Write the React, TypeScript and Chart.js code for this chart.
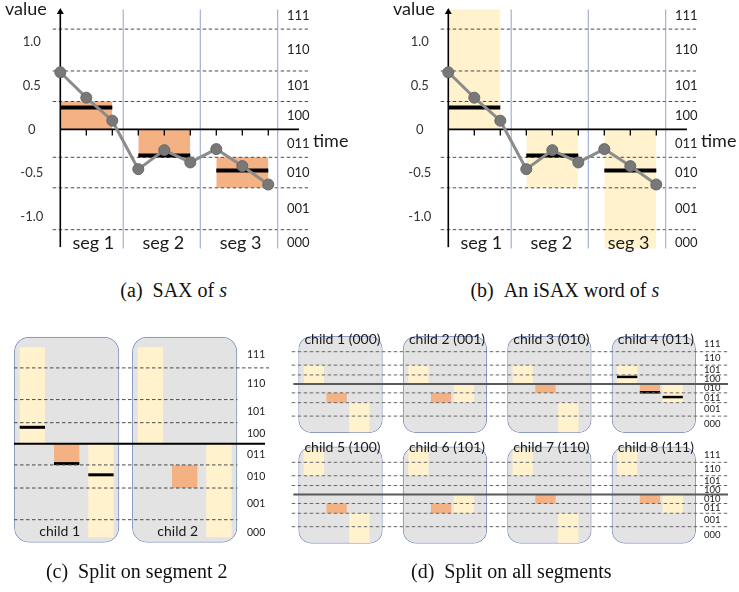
import React, { useEffect, useRef } from 'react';
import { Chart, registerables } from 'chart.js';

Chart.register(...registerables);
const SANS = 'Lato, "Noto Sans", sans-serif';
Chart.defaults.font.family = SANS;

// ---------------- data ----------------
const timeIndex = [0, 1, 2, 3, 4, 5, 6, 7, 8];
const seriesValues = [0.655, 0.364, 0.1, -0.456, -0.238, -0.379, -0.226, -0.421, -0.632];
const segmentNames = ['seg 1', 'seg 2', 'seg 3'];
const segmentMeans = [0.25, -0.3, -0.47];
const segmentBorders = [2.42, 5.385, 8.36];
const breakpoints = [-1.15, -0.67, -0.32, 0, 0.32, 0.67, 1.15];
const valueTicks = [-1, -0.5, 0, 0.5, 1];
const valueTickLabels = ['-1.0', '-0.5', '0', '0.5', '1.0'];
const symbolLabels = ['000', '001', '010', '011', '100', '101', '110', '111'];
const symbolLabelsD = ['000', '001', '011', '010', '100', '101', '110', '111'];
const saxWord = ['100', '011', '010'];
const isaxWord = ['1', '01', '0'];
const seg2SplitChildren = ['child 1', 'child 2'];
const seg2SplitWords = [
  ['1', '011', '0'],
  ['1', '010', '0'],
];
const seg2SplitShowMeans = [0];
const allSplitChildren = [
  'child 1 (000)', 'child 2 (001)', 'child 3 (010)', 'child 4 (011)',
  'child 5 (100)', 'child 6 (101)', 'child 7 (110)', 'child 8 (111)',
];
const allSplitWords = [
  ['10', '010', '00'], ['10', '010', '01'], ['10', '011', '00'], ['10', '011', '01'],
  ['11', '010', '00'], ['11', '010', '01'], ['11', '011', '00'], ['11', '011', '01'],
];
const allSplitShowMeans = [3];

// ---------------- styling ----------------
const ORANGE = '#f4b183';
const YELLOW = '#fff2cc';
const BOX_FILL = '#e3e3e3';
const BOX_EDGE = '#8b9dc3';
const DASH_COLOR = '#4a4a4a';
const TEXT = '#1a1a1a';

type Lin = { p0: number; v0: number; k: number };
const rangeX = (m: Lin, a: number, b: number) => ({ min: m.v0 + (a - m.p0) / m.k, max: m.v0 + (b - m.p0) / m.k });
const rangeY = (m: Lin, top: number, bottom: number) => ({ min: m.v0 - (bottom - m.p0) / m.k, max: m.v0 - (top - m.p0) / m.k });
const xOf = (m: Lin, px: number) => m.v0 + (px - m.p0) / m.k;

// force an axis box to an exact thickness so the plot area lands where the reference has it
const sizeFit = (size: number) => (s: any) => {
  if (s.isHorizontal()) s.height = size;
  else s.width = size;
  s.paddingLeft = 0;
  s.paddingRight = 0;
  s.paddingTop = 0;
  s.paddingBottom = 0;
};
const setTicks = (values: number[]) => (s: any) => {
  s.ticks = values.map((value) => ({ value }));
};
const hidden = { grid: { display: false, drawTicks: false }, border: { display: false } };

function wordRange(word: string, lo: number, hi: number): [number, number] {
  const edges = [lo, ...breakpoints, hi];
  const step = (edges.length - 1) / Math.pow(2, word.length);
  const r = parseInt(word, 2);
  return [edges[r * step], edges[(r + 1) * step]];
}

function bandCenters(outer: number) {
  const edges = [breakpoints[0] - 2 * outer, ...breakpoints, breakpoints[breakpoints.length - 1] + 2 * outer];
  return edges.slice(1).map((e, i) => (e + edges[i]) / 2);
}

type Pt = { x: number; y: number | null };
function gapLines(segs: number[][]): Pt[] {
  const out: Pt[] = [];
  segs.forEach(([x1, y1, x2, y2]) => {
    out.push({ x: x1, y: y1 }, { x: x2, y: y2 }, { x: x2, y: null });
  });
  return out;
}
function lineDs(data: Pt[], color: string, width: number, order: number, extra: any = {}) {
  return {
    type: 'line', data, borderColor: color, borderWidth: width, pointRadius: 0, order,
    clip: false, fill: false, tension: 0, spanGaps: false, ...extra,
  };
}

const baseOptions = (padding: any) => ({
  responsive: false,
  animation: false,
  events: [],
  devicePixelRatio: 1,
  layout: { padding },
  plugins: { legend: { display: false }, tooltip: { enabled: false }, title: { display: false } },
});

// ---------------- panels (a) / (b) ----------------
function saxConfig(word: string[], boxColor: string): any {
  const W = 351, H = 262;
  const mx: Lin = { p0: 60.3, v0: 0, k: 26 };
  const my: Lin = { p0: 129.4, v0: 0, k: 87.2 };
  const area = { left: 60.3, right: 287, top: 8, bottom: 254 };
  const xr = rangeX(mx, area.left, area.right);
  const yr = rangeY(my, area.top, area.bottom);
  const openLo = -1.366, openHi = 1.376;
  const dashL = -0.292, dashR = 9.527;
  const yArrow = 1.346, xArrow = 9.18, yAxisBottom = -1.35, tickLen = 0.07;
  const perSeg = timeIndex.length / segmentNames.length;
  const segIdx = segmentNames.map((_, k) => k);
  const first = (k: number) => timeIndex[k * perSeg];
  const last = (k: number) => timeIndex[k * perSeg + perSeg - 1];
  const segLabelPos = segmentBorders.map((b, k) => ((k === 0 ? timeIndex[0] : segmentBorders[k - 1]) + b) / 2);
  const arrow = { pointStyle: 'triangle', pointBackgroundColor: '#000', pointBorderColor: '#000', pointBorderWidth: 0 };

  const datasets: any[] = [
    lineDs(timeIndex.map((t, i) => ({ x: t, y: seriesValues[i] })), '#8c8c8c', 3, 0, {
      pointRadius: 5.5, pointBackgroundColor: '#787878', pointBorderColor: '#686868', pointBorderWidth: 1,
    }),
    lineDs(gapLines(segIdx.map((k) => [first(k), segmentMeans[k], last(k), segmentMeans[k]])), '#000', 4, 1),
    lineDs([{ x: 0, y: yAxisBottom }, { x: 0, y: yArrow }], '#000', 1.6, 2, { ...arrow, pointRadius: [0, 4], pointRotation: 0 }),
    lineDs([{ x: 0, y: 0 }, { x: xArrow, y: 0 }], '#000', 1.6, 2, { ...arrow, pointRadius: [0, 4], pointRotation: 90 }),
    lineDs(gapLines(timeIndex.slice(1).map((t) => [t, 0, t, -tickLen])), '#000', 1.3, 3),
    lineDs(gapLines(segmentBorders.map((b) => [b, openLo, b, openHi])), '#a3b2d6', 1.2, 4),
    lineDs(gapLines(breakpoints.filter((b) => b !== 0).map((b) => [dashL, b, dashR, b])), DASH_COLOR, 1, 5, {
      borderDash: [3.5, 2.5],
    }),
    ...segIdx.map((k) => {
      const [lo, hi] = wordRange(word[k], openLo, openHi);
      return lineDs([{ x: first(k), y: hi }, { x: last(k), y: hi }], 'rgba(0,0,0,0)', 0, 6 + k, {
        fill: { value: lo }, backgroundColor: boxColor,
      });
    }),
  ];

  return {
    type: 'line',
    data: { datasets },
    options: {
      ...baseOptions({ left: 0, right: 0, top: area.top, bottom: H - area.bottom }),
      scales: {
        x: {
          type: 'linear', min: xr.min, max: xr.max, offset: false, position: 'bottom',
          afterBuildTicks: setTicks(segLabelPos), afterFit: sizeFit(0),
          ticks: {
            autoSkip: false, maxRotation: 0, minRotation: 0, mirror: true, padding: 0, labelOffset: 1.5, z: 1,
            callback: (_v: any, i: number) => segmentNames[i], font: { size: 18 }, color: TEXT,
          },
          ...hidden,
        },
        y: {
          type: 'linear', min: yr.min, max: yr.max, position: 'left',
          afterBuildTicks: setTicks(valueTicks), afterFit: sizeFit(area.left),
          ticks: {
            autoSkip: false, crossAlign: 'center', padding: 17, callback: (_v: any, i: number) => valueTickLabels[i],
            font: { size: 13 }, color: '#333',
          },
          ...hidden,
        },
        y2: {
          type: 'linear', min: yr.min, max: yr.max, position: 'right',
          afterBuildTicks: setTicks(bandCenters(0.15)), afterFit: sizeFit(W - area.right),
          ticks: {
            autoSkip: false, padding: 0, callback: (_v: any, i: number) => symbolLabels[i],
            font: { size: 13 }, color: '#222',
          },
          ...hidden,
        },
      },
    },
  };
}

// ---------------- panels (c) / (d) ----------------
type SplitOpts = {
  W: number; H: number;
  mBox: Lin; mSeg: Lin; my: Lin;
  area: { left: number; right: number; top: number; bottom: number };
  names: string[]; words: string[][]; showMeans: number[];
  box: [number, number]; open: [number, number];
  catBox: number; catSeg: number; barSeg: number; radius: number;
  px: { dashL: number; dashR: number; dashRTop: number; zeroL: number; zeroR: number };
  zeroColor: string; zeroWidth: number; dashColor: string;
  codes: string[]; codeOuter: number; codeSize: number;
  namePos: 'top' | 'bottom'; nameOffset: number; nameSize: number;
  meanPx: number;
};

// bottom layer: the rounded child boxes
function splitBoxConfig(o: SplitOpts): any {
  const xr = rangeX(o.mBox, o.area.left, o.area.right);
  const yr = rangeY(o.my, o.area.top, o.area.bottom);
  const idx = o.names.map((_, i) => i);
  return {
    type: 'bar',
    data: {
      datasets: [
        {
          type: 'bar', grouped: false, clip: false,
          categoryPercentage: o.catBox, barPercentage: 1, backgroundColor: BOX_FILL, borderColor: BOX_EDGE,
          borderWidth: 1.2, borderSkipped: false, borderRadius: o.radius,
          data: idx.map((i) => ({ x: i, y: [o.box[0], o.box[1]] })),
        },
      ],
    },
    options: {
      ...baseOptions({ left: o.area.left, right: o.W - o.area.right, top: o.area.top, bottom: o.H - o.area.bottom }),
      scales: {
        x: { type: 'linear', display: false, min: xr.min, max: xr.max, offset: false, afterBuildTicks: setTicks(idx) },
        y: { type: 'linear', display: false, min: yr.min, max: yr.max, stacked: false, beginAtZero: false },
      },
    },
  };
}

// top layer: symbol cells, segment means, breakpoint lines, labels
function splitMarksConfig(o: SplitOpts): any {
  const m = o.mSeg;
  const xr = rangeX(m, o.area.left, o.area.right);
  const yr = rangeY(o.my, o.area.top, o.area.bottom);
  const idx = o.names.map((_, i) => i);
  const segIdx = segmentNames.map((_, k) => k);
  const delta = o.meanPx / 2 / o.my.k;
  const topBreak = breakpoints[breakpoints.length - 1];
  const nameAxisSize = o.namePos === 'top' ? o.area.top : o.H - o.area.bottom;
  const dashL = xOf(m, o.px.dashL), dashR = xOf(m, o.px.dashR), dashRTop = xOf(m, o.px.dashRTop);

  const datasets: any[] = [
    lineDs([{ x: xOf(m, o.px.zeroL), y: 0 }, { x: xOf(m, o.px.zeroR), y: 0 }], o.zeroColor, o.zeroWidth, 0),
    lineDs(
      gapLines(breakpoints.filter((b) => b !== 0).map((b) => [dashL, b, b === topBreak ? dashRTop : dashR, b])),
      o.dashColor, 1, 1, { borderDash: [3.5, 2.5] },
    ),
    // one grouped bar dataset per segment: the symbol cell of every child, then the segment-mean marks on top
    ...segIdx.map((k) => ({
      type: 'bar', order: 2 + k, clip: false, borderWidth: 0,
      categoryPercentage: o.catSeg, barPercentage: o.barSeg,
      backgroundColor: [
        ...idx.map((i) => (o.words[i][k].length === 3 ? ORANGE : YELLOW)),
        ...o.showMeans.map(() => '#000'),
      ],
      data: [
        ...idx.map((i) => ({ x: i, y: wordRange(o.words[i][k], o.open[0], o.open[1]) })),
        ...o.showMeans.map((i) => ({ x: i, y: [segmentMeans[k] - delta, segmentMeans[k] + delta] })),
      ],
    })),
  ];

  return {
    type: 'bar',
    data: { datasets },
    options: {
      ...baseOptions({
        left: o.area.left,
        right: 0,
        top: o.namePos === 'top' ? 0 : o.area.top,
        bottom: o.namePos === 'bottom' ? 0 : o.H - o.area.bottom,
      }),
      scales: {
        x: {
          type: 'linear', min: xr.min, max: xr.max, offset: false, position: o.namePos,
          afterBuildTicks: setTicks(idx), afterFit: sizeFit(nameAxisSize),
          ticks: {
            autoSkip: false, maxRotation: 0, minRotation: 0, padding: 0, z: 1,
            labelOffset: o.nameOffset + (o.mBox.p0 - m.p0),
            callback: (_v: any, i: number) => o.names[i], font: { size: o.nameSize }, color: TEXT,
          },
          ...hidden,
        },
        y: {
          type: 'linear', min: yr.min, max: yr.max, position: 'right', stacked: false, beginAtZero: false,
          afterBuildTicks: setTicks(bandCenters(o.codeOuter)), afterFit: sizeFit(o.W - o.area.right),
          ticks: {
            autoSkip: false, padding: 0, callback: (_v: any, i: number) => o.codes[i],
            font: { size: o.codeSize }, color: '#222',
          },
          ...hidden,
        },
      },
    },
  };
}

const cOpts = (): SplitOpts => ({
  W: 290, H: 225,
  mBox: { p0: 66.65, v0: 0, k: 118 }, mSeg: { p0: 66.65, v0: 0, k: 118 },
  my: { p0: 118.8, v0: 0, k: 66 },
  area: { left: 14, right: 247, top: 15, bottom: 198.3 },
  names: seg2SplitChildren, words: seg2SplitWords, showMeans: seg2SplitShowMeans,
  box: [-1.498, 1.623], open: [-1.417, 1.462],
  catBox: 0.892, catSeg: 0.872, barSeg: 0.738, radius: 15,
  px: { dashL: 14, dashR: 237.3, dashRTop: 269, zeroL: 14, zeroR: 265 },
  zeroColor: '#000', zeroWidth: 2, dashColor: DASH_COLOR,
  codes: symbolLabels, codeOuter: 0.2, codeSize: 10.5,
  namePos: 'bottom', nameOffset: -7, nameSize: 14, meanPx: 3,
});

const dOpts = (r: number): SplitOpts => {
  const perRow = 4;
  const from = r * perRow;
  return {
    W: 454, H: r === 0 ? 113 : 112,
    mBox: { p0: 55.5, v0: 0, k: 104.45 }, mSeg: { p0: 51.6, v0: 0, k: 104.45 },
    my: { p0: r === 0 ? 58.9 : 56.5, v0: 0, k: 28 },
    area: { left: 13, right: 419, top: r === 0 ? 22.7 : 17.7, bottom: r === 0 ? 105 : 102 },
    names: allSplitChildren.slice(from, from + perRow),
    words: allSplitWords.slice(from, from + perRow),
    showMeans: allSplitShowMeans.filter((i) => i >= from && i < from + perRow).map((i) => i - from),
    box: [-1.755, 1.71], open: [-1.725, 1.59],
    catBox: 0.808, catSeg: 0.6534, barSeg: 0.89, radius: 13,
    px: { dashL: 6.7, dashR: 443.3, dashRTop: 443.3, zeroL: 8.3, zeroR: 443 },
    zeroColor: '#595959', zeroWidth: 2, dashColor: '#666',
    codes: symbolLabelsD, codeOuter: 0.28, codeSize: 9.5,
    namePos: 'top', nameOffset: 2, nameSize: 14, meanPx: 2.5,
  };
};

// ---------------- components ----------------
function ChartCanvas({ left, top, width, height, make }: any) {
  const ref = useRef<HTMLCanvasElement>(null);
  useEffect(() => {
    const chart = new Chart(ref.current as HTMLCanvasElement, make());
    return () => chart.destroy();
  }, []);
  return (
    <canvas
      ref={ref}
      width={width}
      height={height}
      style={{ position: 'absolute', left, top, width, height }}
    />
  );
}

function SplitPanel({ left, top, opts }: any) {
  return (
    <>
      <ChartCanvas left={left} top={top} width={opts.W} height={opts.H} make={() => splitBoxConfig(opts)} />
      <ChartCanvas left={left} top={top} width={opts.W} height={opts.H} make={() => splitMarksConfig(opts)} />
    </>
  );
}

function Txt({ left, top, children, size = 18, family = SANS }: any) {
  return (
    <div
      style={{
        position: 'absolute', left, top, fontSize: size, lineHeight: `${size}px`,
        fontFamily: family, color: TEXT, whiteSpace: 'nowrap',
      }}
    >
      {children}
    </div>
  );
}

const SERIF = '"Liberation Serif", "Times New Roman", serif';
function Caption({ cx, top, children }: any) {
  return (
    <div
      style={{
        position: 'absolute', left: cx - 150, top, width: 300, textAlign: 'center', fontSize: 20,
        lineHeight: '22px', fontFamily: SERIF, color: '#111', whiteSpace: 'nowrap',
      }}
    >
      {children}
    </div>
  );
}

export default function App() {
  return (
    <div style={{ position: 'absolute', left: 0, top: 0, width: 739, height: 592, background: '#fff', overflow: 'hidden' }}>
      <ChartCanvas left={0} top={0} width={351} height={262} make={() => saxConfig(saxWord, ORANGE)} />
      <ChartCanvas left={388} top={0} width={351} height={262} make={() => saxConfig(isaxWord, YELLOW)} />
      <SplitPanel left={0} top={325} opts={cOpts()} />
      <SplitPanel left={285} top={325} opts={dOpts(0)} />
      <SplitPanel left={285} top={438} opts={dOpts(1)} />

      <Txt left={5} top={-1}>value</Txt>
      <Txt left={313} top={130.7}>time</Txt>
      <Txt left={393} top={-1}>value</Txt>
      <Txt left={701} top={130.7}>time</Txt>

      <Caption cx={173.7} top={279.3}>(a)&nbsp;&nbsp;SAX of <i>s</i></Caption>
      <Caption cx={564.9} top={279.3}>(b)&nbsp;&nbsp;An iSAX word of <i>s</i></Caption>
      <Caption cx={136.7} top={559.5}>(c)&nbsp;&nbsp;Split on segment 2</Caption>
      <Caption cx={511.3} top={559.5}>(d)&nbsp;&nbsp;Split on all segments</Caption>
    </div>
  );
}
